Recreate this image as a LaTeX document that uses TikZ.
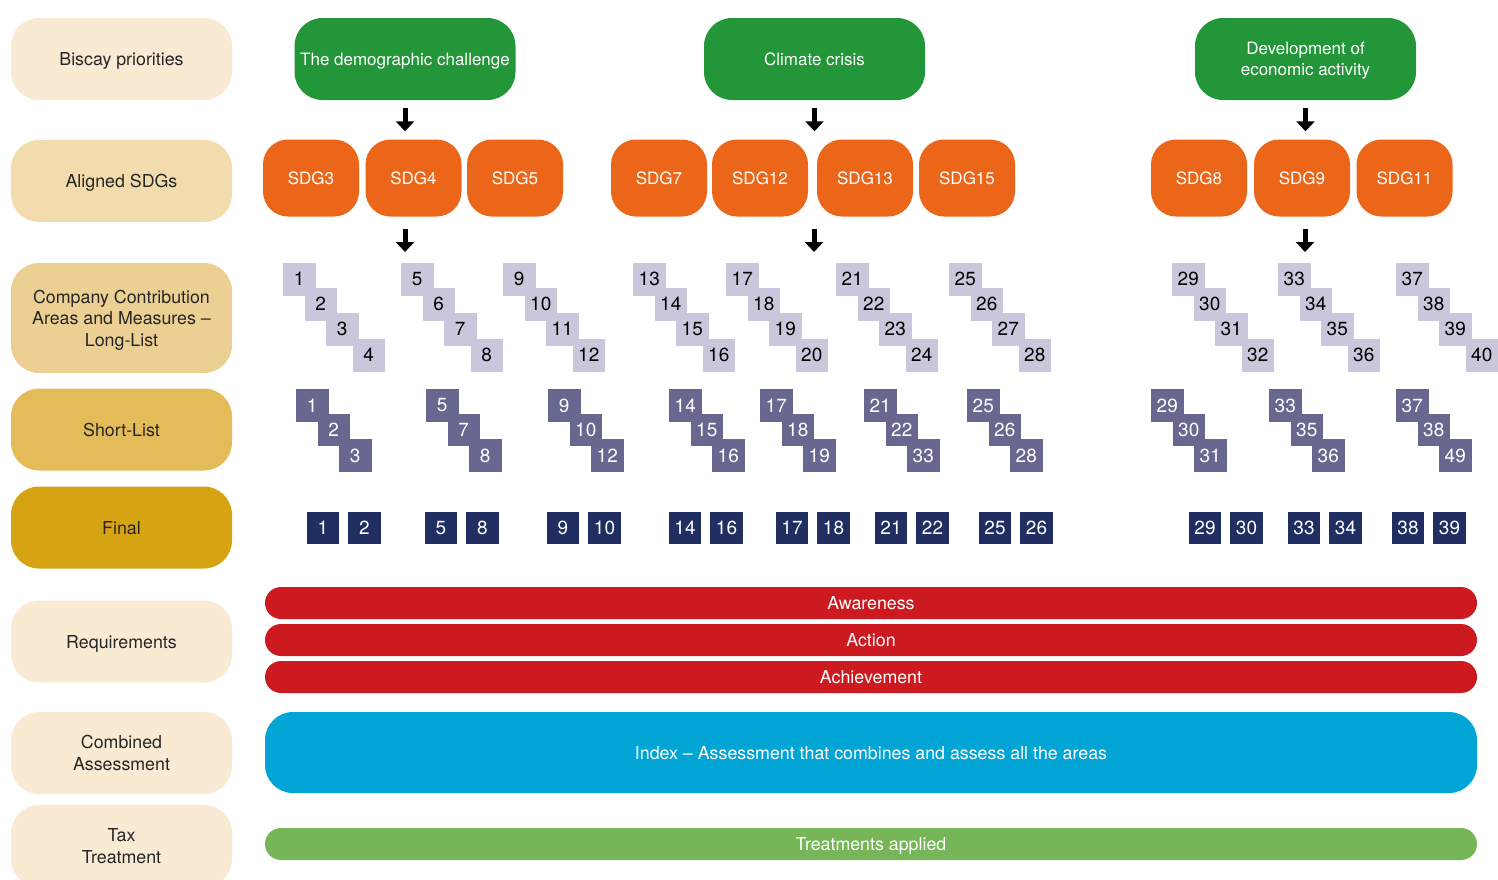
\documentclass[tikz,border=0pt]{standalone}
\usepackage{fontspec}
\setmainfont{TeX Gyre Heros}
\usepackage{tikz}
\usetikzlibrary{arrows.meta}

\definecolor{creamA}{HTML}{F8EAD3}
\definecolor{creamB}{HTML}{F2DBAC}
\definecolor{creamC}{HTML}{ECD093}
\definecolor{creamD}{HTML}{E4BB59}
\definecolor{creamE}{HTML}{D6A312}
\definecolor{prioGreen}{HTML}{23963A}
\definecolor{sdgOrange}{HTML}{EC661A}
\definecolor{longLav}{HTML}{C8C7DB}
\definecolor{shortLav}{HTML}{676790}
\definecolor{finalNavy}{HTML}{212E62}
\definecolor{reqRed}{HTML}{CD1A20}
\definecolor{indexBlue}{HTML}{00A5D5}
\definecolor{taxGreen}{HTML}{76B558}
\definecolor{labelText}{HTML}{262626}

\tikzset{
	txt/.style={font=\fontsize{17.8}{21.5}\selectfont, align=center, text depth=0pt},
	rowlabel/.style={txt, text=labelText, rounded corners=28pt, minimum width=221pt, minimum height=82pt, inner sep=0pt},
	priority/.style={txt, font=\fontsize{17}{21.5}\selectfont, fill=prioGreen, text=white, rounded corners=28pt, minimum width=221pt, minimum height=82pt, inner sep=0pt},
	sdgbox/.style={txt, font=\fontsize{17}{21}\selectfont, fill=sdgOrange, text=white, rounded corners=25pt, minimum width=96pt, minimum height=77pt, inner sep=0pt},
	numsq/.style={font=\fontsize{19}{21}\selectfont, minimum size=32.5pt, inner sep=0pt},
	longsq/.style={numsq, fill=longLav, text=black},
	shortsq/.style={numsq, fill=shortLav, text=white},
	finalsq/.style={numsq, fill=finalNavy, text=white},
	bar/.style={txt, text=white, minimum width=1212pt, inner sep=0pt},
	bigarrow/.style={line width=5pt, -{Triangle[width=18pt,length=10pt]}}
}

\begin{document}
\begin{tikzpicture}[x=1pt, y=-1pt]
	\useasboundingbox (0,0) rectangle (1498,879);
	\node[rowlabel, fill=creamA] (biscay) at (121.5,59) {Biscay priorities};
	\node[rowlabel, fill=creamB] (aligned) at (121.5,181) {Aligned SDGs};
	\node[rowlabel, fill=creamC, minimum height=110pt] (company) at (121.5,318) {Company Contribution\\Areas and Measures --\\Long-List};
	\node[rowlabel, fill=creamD] (short) at (121.5,429.5) {Short-List};
	\node[rowlabel, fill=creamE] (final) at (121.5,527.5) {Final};
	\node[rowlabel, fill=creamA] (require) at (121.5,641.5) {Requirements};
	\node[rowlabel, fill=creamA] (combined) at (121.5,753) {Combined\\Assessment};
	\node[rowlabel, fill=creamA] (tax) at (121.5,846) {Tax\\Treatment};

	\node[priority] (demo) at (405,59) {The demographic challenge};
	\node[priority] (climate) at (814.5,59) {Climate crisis};
	\node[priority] (develop) at (1305.5,59) {Development of\\economic activity};

\foreach \sx/\sname in {311/3, 413.5/4, 515/5, 659/7, 760/12, 865/13, 967/15, 1199/8, 1302/9, 1404.5/11}
	\node[sdgbox] (sdg\sname) at (\sx,178) {SDG\sname};

	\coordinate (longA) at (405,263);
	\coordinate (longB) at (814,263);
	\coordinate (longC) at (1305,263);
	\draw[bigarrow, shorten <=8pt, shorten >=8pt] (demo.south) -- (demo.south |- sdg4.north);
	\draw[bigarrow, shorten <=8pt, shorten >=8pt] (climate.south) -- (climate.south |- sdg12.north);
	\draw[bigarrow, shorten <=8pt, shorten >=8pt] (develop.south) -- (develop.south |- sdg9.north);
	\draw[bigarrow, shorten <=12pt, shorten >=11pt] (longA |- sdg4.south) -- (longA);
	\draw[bigarrow, shorten <=12pt, shorten >=11pt] (longB |- sdg12.south) -- (longB);
	\draw[bigarrow, shorten <=12pt, shorten >=11pt] (longC |- sdg9.south) -- (longC);

\foreach \gx/\first in {283/1, 401/5, 503/9, 633/13, 726/17, 836/21, 949/25, 1172/29, 1278/33, 1396/37}
	\foreach \dx/\dy [count=\k from 0] in {0/0, 21.5/25, 43/50, 69.5/76} {
		\pgfmathtruncatemacro{\num}{\first+\k}
		\node[longsq] (ll\num) at (\gx+\dx+16.25, 263+\dy+16.25) {\num};
	}

\foreach \gx/\na/\nb/\nc [count=\g] in {296/1/2/3, 426/5/7/8, 548/9/10/12, 669/14/15/16, 760/17/18/19, 864/21/22/33, 967/25/26/28, 1151/29/30/31, 1269/33/35/36, 1396/37/38/49} {
	\node[shortsq] (sl\g a) at (\gx+16.25, 405.5) {\na};
	\node[shortsq] (sl\g b) at (\gx+37.75, 430) {\nb};
	\node[shortsq] (sl\g c) at (\gx+59.25, 455.5) {\nc};
}

\foreach \gx/\na/\nb [count=\g] in {307/1/2, 425/5/8, 547/9/10, 669/14/16, 776/17/18, 875/21/22, 979/25/26, 1189/29/30, 1288/33/34, 1392/38/39} {
	\node[finalsq] (fn\g a) at (\gx+16, 528) {\na};
	\node[finalsq] (fn\g b) at (\gx+57.5, 528) {\nb};
}

	\node[bar, fill=reqRed, rounded corners=16pt, minimum height=32pt] (aware) at (871,603) {Awareness};
	\node[bar, fill=reqRed, rounded corners=16pt, minimum height=32pt] (action) at (871,640) {Action};
	\node[bar, fill=reqRed, rounded corners=16pt, minimum height=32pt] (achieve) at (871,677) {Achievement};
	\node[bar, fill=indexBlue, rounded corners=28pt, minimum height=81pt] (index) at (871,752.5) {Index -- Assessment that combines and assess all the areas};
	\node[bar, fill=taxGreen, rounded corners=16pt, minimum height=32pt] (treat) at (871,844) {Treatments applied};
\end{tikzpicture}
\end{document}
